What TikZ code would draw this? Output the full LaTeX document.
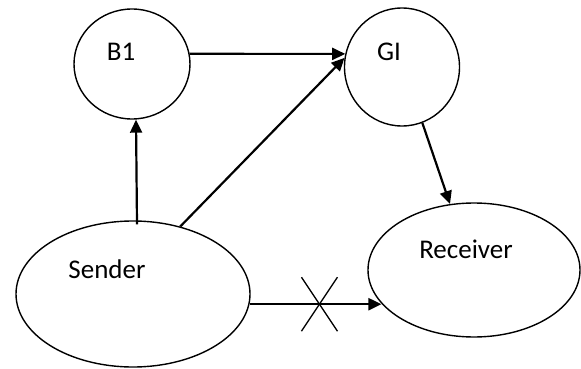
\documentclass[tikz,border=0pt]{standalone}
\usepackage{fontspec}
\setmainfont{Carlito}
\usetikzlibrary{shapes.geometric,arrows.meta,calc}
\begin{document}
\begin{tikzpicture}[x=1pt,y=-1pt,
  party/.style={draw,ellipse,line width=1.4pt,inner sep=0pt},
  tag/.style={anchor=base,font=\fontsize{27}{30}\selectfont},
  link/.style={line width=2.2pt,-{Triangle[length=13pt,width=12pt]}},
  cut/.style={line width=1.3pt}]
\useasboundingbox (0,0) rectangle (581,369);

% parties
\node[party,minimum width=116pt,minimum height=110pt] (b1) at (132,64) {};
\node[party,minimum width=115pt,minimum height=118pt] (gi) at (402,67) {};
\node[party,minimum width=234pt,minimum height=146pt] (sender) at (133,294) {};
\node[party,minimum width=212pt,minimum height=134pt] (receiver) at (474,270) {};

% labels
\node[tag] (b1txt) at (121,61) {B1};
\node[tag] (gitxt) at (389,61) {GI};
\node[tag] (sendertxt) at (107,278) {Sender};
\node[tag] (receivertxt) at (466,258) {Receiver};

% messages
\draw[link] (b1.10) -- (gi.167);
\draw[link] ([xshift=4pt,yshift=-4pt]sender.north) -- ([xshift=4pt]b1.south);
\draw[link] (sender.55) -- (gi.171);
\draw[link] (gi.-70) -- (receiver.110.5);
\draw[link] (sender.-5) -- (sender.-5 -| receiver.200)
  coordinate[pos=0.53] (blocked);

% blocked path
\draw[cut] ($(blocked)+(-18,-27)$) -- ($(blocked)+(18,27)$);
\draw[cut] ($(blocked)+(18,-27)$) -- ($(blocked)+(-18,27)$);
\end{tikzpicture}
\end{document}
